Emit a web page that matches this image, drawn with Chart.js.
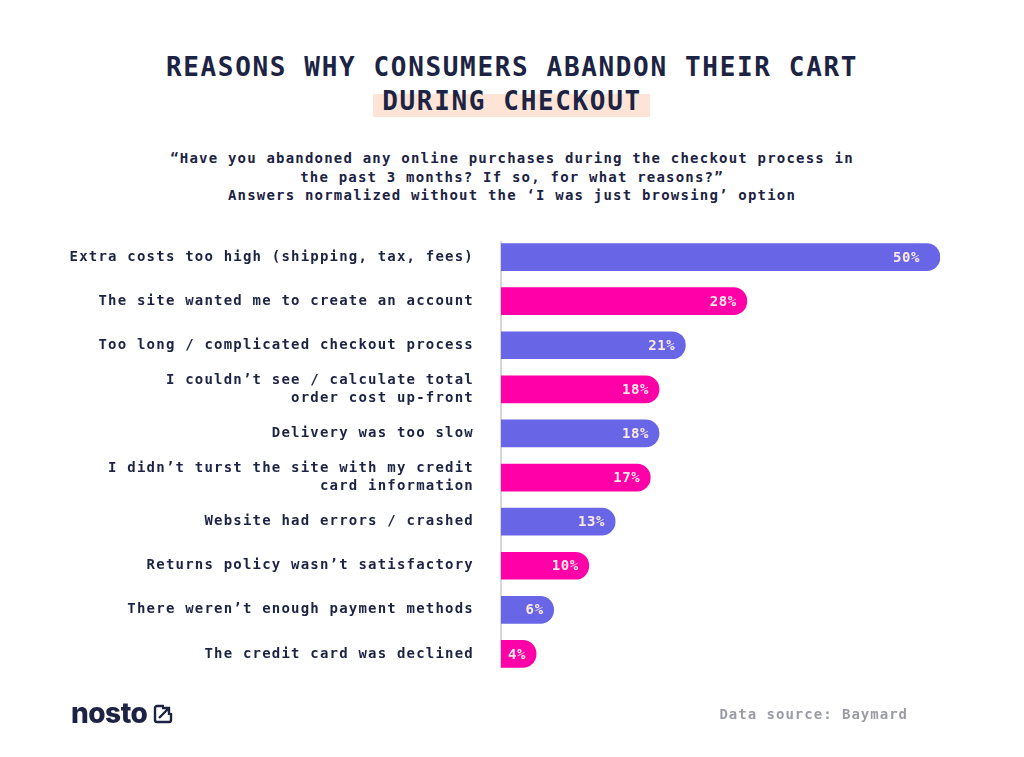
<!DOCTYPE html>
<html>
<head>
<meta charset="utf-8">
<script src="https://cdn.jsdelivr.net/npm/chart.js@4.4.1/dist/chart.umd.min.js"></script>
<style>
  body { margin: 0; background: #fff; }
  #wrap { position: relative; width: 1024px; height: 757px; overflow: hidden; }
  #chart { position: absolute; left: 0; top: 0; }
  .txt { position: absolute; font-family: "DejaVu Sans Mono", monospace; color: #1c2343; }
  #hl { position: absolute; left: 373px; top: 94px; width: 277px; height: 23px; background: #fde4d6; }
  #title { left: 0; width: 1024px; top: 50px; text-align: center; font-size: 26px; font-weight: bold; line-height: 34px; letter-spacing: 1.65px; }
  #sub { left: 0; width: 1024px; top: 149px; text-align: center; font-size: 14px; font-weight: bold; line-height: 18.5px; letter-spacing: 1.2px; }
  #source { right: 116px; top: 704px; font-size: 14px; font-weight: bold; color: #9b9ba6; letter-spacing: 1px; line-height: 20px; }
  #logo { position: absolute; left: 71px; top: 695px; font-family: Inter, sans-serif; font-weight: 800; font-size: 28px; letter-spacing: -0.5px; color: #1c2343; line-height: 36px; }
  #logo svg { position: absolute; left: 82px; top: 9px; }
</style>
</head>
<body>
<div id="wrap">
  <div id="hl"></div>
  <div class="txt" id="title">REASONS WHY CONSUMERS ABANDON THEIR CART<br>DURING CHECKOUT</div>
  <div class="txt" id="sub">“Have you abandoned any online purchases during the checkout process in<br>the past 3 months? If so, for what reasons?”<br>Answers normalized without the ‘I was just browsing’ option</div>
  <canvas id="chart" width="1024" height="757"></canvas>
  <div id="logo">nosto<svg width="20" height="20" viewBox="0 0 20 20"><path d="M11 2H4a2 2 0 0 0-2 2v12a2 2 0 0 0 2 2h12a2 2 0 0 0 2-2V9" fill="none" stroke="#1c2343" stroke-width="2.4"/><path d="M6 14L16 4M9 4h7v7" fill="none" stroke="#1c2343" stroke-width="2.4"/></svg></div>
  <div class="txt" id="source">Data source: Baymard</div>
</div>
<script>
const reasons = [
  "Extra costs too high (shipping, tax, fees)",
  "The site wanted me to create an account",
  "Too long / complicated checkout process",
  ["I couldn’t see / calculate total", "order cost up-front"],
  "Delivery was too slow",
  ["I didn’t turst the site with my credit", "card information"],
  "Website had errors / crashed",
  "Returns policy wasn’t satisfactory",
  "There weren’t enough payment methods",
  "The credit card was declined"
];
const shares = [50, 28, 21, 18, 18, 17, 13, 10, 6, 4];

const purple = "#6865e6";
const pink = "#ff00a8";
const barColors = shares.map((v, i) => i % 2 == 0 ? purple : pink);

// axis line a bit shorter than the plot area, like the original
const axisLine = {
  id: "axisLine",
  beforeDatasetsDraw(chart) {
    const ctx = chart.ctx;
    const area = chart.chartArea;
    ctx.save();
    ctx.strokeStyle = "#c8c8c8";
    ctx.lineWidth = 1.5;
    ctx.beginPath();
    ctx.moveTo(area.left, area.top + 6);
    ctx.lineTo(area.left, area.bottom - 8);
    ctx.stroke();
    ctx.restore();
  }
};

// value labels drawn inside the bar end
const valueLabels = {
  id: "valueLabels",
  afterDatasetsDraw(chart) {
    const ctx = chart.ctx;
    const bars = chart.getDatasetMeta(0).data;
    ctx.save();
    ctx.letterSpacing = "0.6px";
    ctx.font = "bold 14px 'DejaVu Sans Mono'";
    ctx.fillStyle = "#fbe9e4";
    ctx.textAlign = "right";
    ctx.textBaseline = "middle";
    bars.forEach((bar, i) => {
      const off = i == 0 ? 20 : 10;
      ctx.fillText(shares[i] + "%", bar.x - off, bar.y + 1);
    });
    ctx.restore();
  }
};

const spacing = {
  id: "spacing",
  beforeDraw(chart) { chart.ctx.letterSpacing = "1.2px"; }
};

new Chart(document.getElementById("chart"), {
  type: "bar",
  data: {
    labels: reasons,
    datasets: [{
      data: shares,
      backgroundColor: barColors,
      borderRadius: { topLeft: 0, bottomLeft: 0, topRight: 14, bottomRight: 14 },
      borderSkipped: false,
      barThickness: 27
    }]
  },
  options: {
    indexAxis: "y",
    responsive: false,
    animation: false,
    layout: { padding: { left: 0, right: 84, top: 235, bottom: 81 } },
    plugins: { legend: { display: false }, tooltip: { enabled: false } },
    scales: {
      x: { display: false, min: 0, max: 50 },
      y: {
        afterFit(scale) { scale.width = 501; },
        grid: { display: false, drawTicks: false },
        border: { display: false },
        ticks: {
          padding: 27,
          color: "#1c2343",
          font: { family: "DejaVu Sans Mono", size: 14, weight: "bold", lineHeight: 1.3 }
        }
      }
    }
  },
  plugins: [spacing, axisLine, valueLabels]
});
</script>
</body>
</html>
